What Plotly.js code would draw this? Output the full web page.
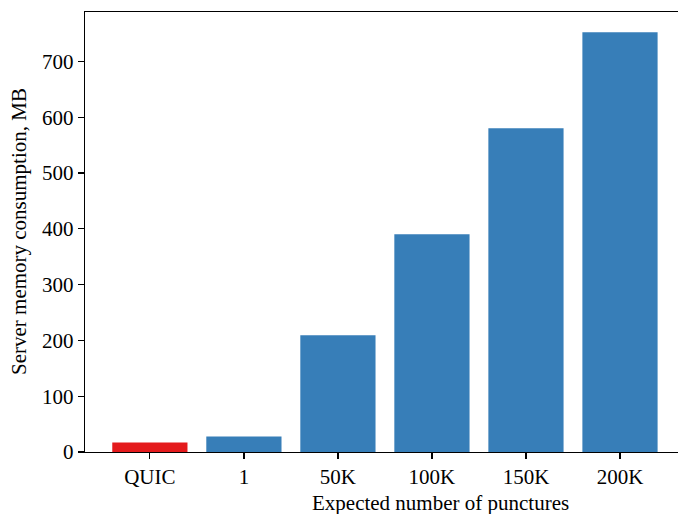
<!DOCTYPE html>
<html>
<head>
<meta charset="utf-8">
<script src="https://cdn.plot.ly/plotly-3.0.1.min.js"></script>
<style>html,body{margin:0;padding:0;background:#fff;}#chart{width:678px;height:514px;}</style>
</head>
<body>
<div id="chart"></div>
<script>
const categories = ["QUIC", "1", "50K", "100K", "150K", "200K"];
const memoryMB = [17, 28, 209, 390, 580, 752];
const barColors = ["#e41a1c", "#377eb8", "#377eb8", "#377eb8", "#377eb8", "#377eb8"];
const yTickVals = [0, 100, 200, 300, 400, 500, 600, 700];
const xTitle = "Expected number of punctures";
const yTitle = "Server memory consumption, MB";

const fontFam = "Liberation Serif, Times New Roman, serif";
const fs = 21;

const trace = {
  type: "bar",
  x: categories.map((c, i) => i),
  y: memoryMB,
  width: 0.8,
  marker: { color: barColors, line: { width: 0 } },
  hoverinfo: "skip"
};

const layout = {
  width: 678,
  height: 514,
  margin: { l: 85, r: 0, t: 12, b: 62 },
  paper_bgcolor: "#fff",
  plot_bgcolor: "#fff",
  showlegend: false,
  font: { family: fontFam, size: fs, color: "#000" },
  xaxis: {
    range: [-0.69, 5.617],
    tickmode: "array",
    tickvals: categories.map((c, i) => i),
    ticktext: categories,
    showgrid: false,
    zeroline: false,
    showline: true,
    linecolor: "#000",
    linewidth: 1.2,
    mirror: true,
    ticks: "outside",
    ticklen: 6,
    tickwidth: 1.2,
    tickcolor: "#000",
    tickfont: { family: fontFam, size: fs, color: "#000" },
    automargin: false
  },
  yaxis: {
    range: [0, 788.5],
    tickmode: "array",
    tickvals: yTickVals,
    showgrid: false,
    zeroline: false,
    showline: true,
    linecolor: "#000",
    linewidth: 1.2,
    mirror: false,
    ticks: "outside",
    ticklen: 6,
    tickwidth: 1.2,
    tickcolor: "#000",
    tickfont: { family: fontFam, size: fs, color: "#000" },
    automargin: false
  },
  annotations: [
    {
      text: xTitle, xref: "paper", yref: "paper",
      x: (440 - 85) / 593, y: (452 - 503) / 440,
      xanchor: "center", yanchor: "middle", showarrow: false,
      font: { family: fontFam, size: fs, color: "#000" }
    },
    {
      text: yTitle, xref: "paper", yref: "paper",
      x: (19 - 85) / 593, y: 0.5,
      xanchor: "center", yanchor: "middle", showarrow: false, textangle: -90,
      font: { family: fontFam, size: fs, color: "#000" }
    }
  ]
};

Plotly.newPlot("chart", [trace], layout, { staticPlot: true, displayModeBar: false });
</script>
</body>
</html>
